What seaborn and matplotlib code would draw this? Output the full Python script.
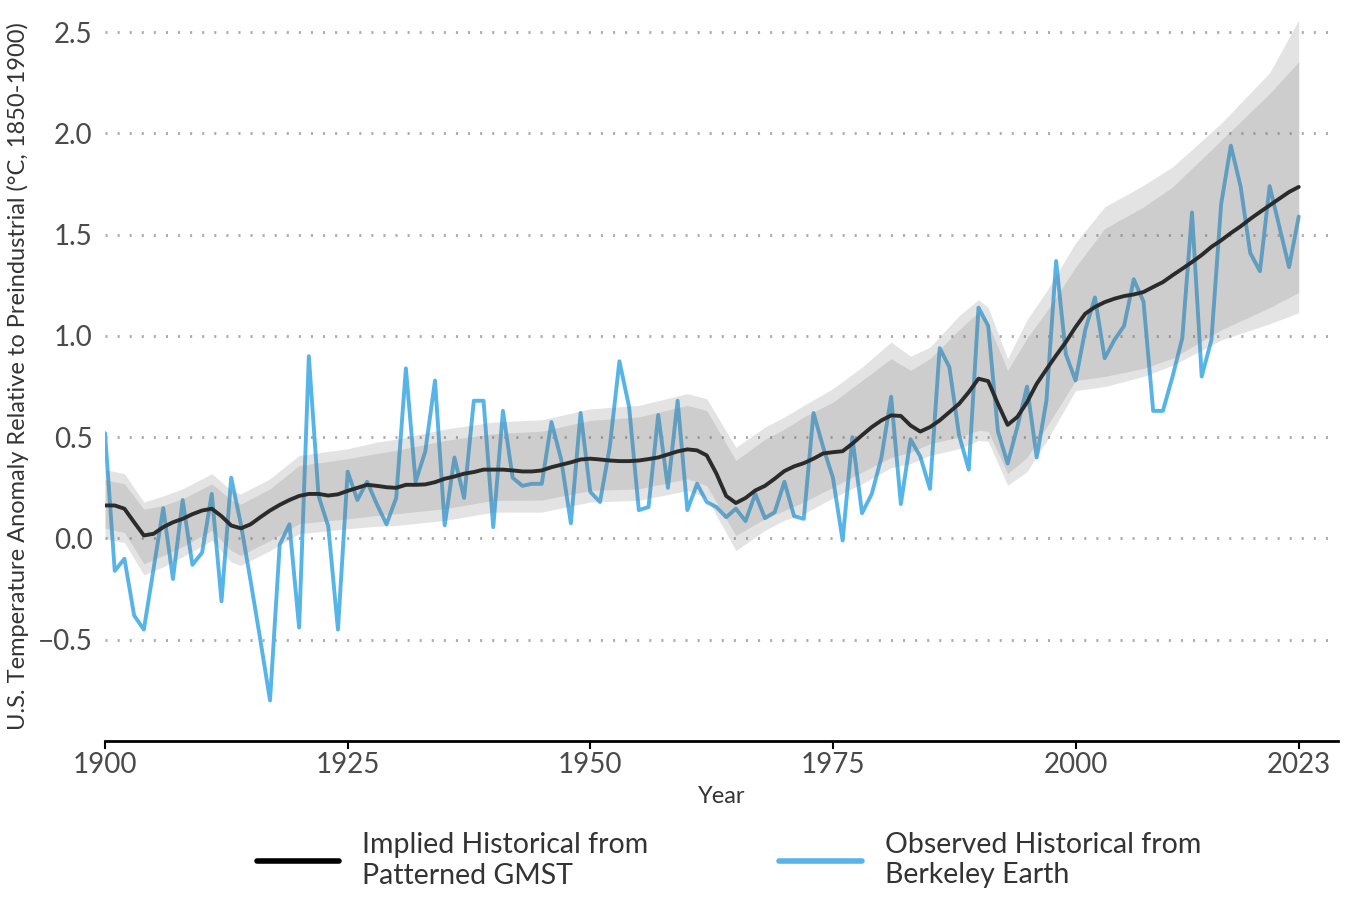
import matplotlib
matplotlib.use('Agg')
import matplotlib.pyplot as plt
from matplotlib.lines import Line2D
import seaborn as sns

# ---- data ----
years = list(range(1900, 2024))

observed = [
    0.52, -0.16, -0.10, -0.38, -0.45, -0.15, 0.15, -0.20, 0.19, -0.13,   # 1900s
    -0.07, 0.22, -0.31, 0.30, 0.07, -0.21, -0.50, -0.80, -0.03, 0.07,    # 1910s
    -0.44, 0.90, 0.21, 0.06, -0.45, 0.33, 0.19, 0.28, 0.17, 0.07,        # 1920s
    0.20, 0.84, 0.28, 0.43, 0.78, 0.065, 0.40, 0.20, 0.68, 0.68,         # 1930s
    0.056, 0.63, 0.30, 0.26, 0.27, 0.27, 0.575, 0.39, 0.075, 0.62,       # 1940s
    0.23, 0.18, 0.45, 0.875, 0.65, 0.14, 0.155, 0.61, 0.25, 0.68,        # 1950s
    0.14, 0.27, 0.18, 0.155, 0.105, 0.147, 0.086, 0.22, 0.10, 0.13,      # 1960s
    0.28, 0.11, 0.097, 0.62, 0.45, 0.30, -0.01, 0.50, 0.125, 0.22,       # 1970s
    0.40, 0.70, 0.17, 0.49, 0.405, 0.245, 0.94, 0.846, 0.51, 0.34,       # 1980s
    1.14, 1.05, 0.53, 0.37, 0.55, 0.75, 0.40, 0.68, 1.37, 0.91,          # 1990s
    0.78, 1.03, 1.19, 0.89, 0.98, 1.05, 1.28, 1.17, 0.63, 0.63,          # 2000s
    0.80, 0.99, 1.61, 0.80, 0.98, 1.65, 1.94, 1.74, 1.41, 1.32,          # 2010s
    1.74, 1.54, 1.34, 1.59,                                              # 2020s
]

implied = [
    0.163, 0.163, 0.147, 0.08, 0.015, 0.023, 0.056, 0.08, 0.097, 0.12,
    0.138, 0.147, 0.11, 0.064, 0.05, 0.07, 0.105, 0.138, 0.166, 0.19,
    0.21, 0.22, 0.22, 0.212, 0.218, 0.235, 0.25, 0.265, 0.26, 0.253,
    0.25, 0.265, 0.265, 0.267, 0.278, 0.295, 0.306, 0.32, 0.328, 0.34,
    0.34, 0.34, 0.336, 0.331, 0.331, 0.336, 0.352, 0.364, 0.376, 0.39,
    0.394, 0.39, 0.385, 0.382, 0.382, 0.385, 0.392, 0.40, 0.415, 0.43,
    0.44, 0.435, 0.41, 0.32, 0.21, 0.175, 0.20, 0.237, 0.26, 0.295,
    0.333, 0.356, 0.372, 0.394, 0.42, 0.426, 0.431, 0.468, 0.51, 0.55,
    0.583, 0.608, 0.605, 0.558, 0.528, 0.55, 0.583, 0.624, 0.665, 0.723,
    0.789, 0.777, 0.665, 0.561, 0.60, 0.673, 0.764, 0.835, 0.904, 0.97,
    1.044, 1.11, 1.143, 1.167, 1.184, 1.197, 1.205, 1.217, 1.242, 1.266,
    1.30, 1.332, 1.365, 1.40, 1.44, 1.472, 1.508, 1.541, 1.578, 1.612,
    1.645, 1.678, 1.711, 1.736,
]

# uncertainty bands (sampled years)
band_years = [1900, 1902, 1904, 1906, 1908, 1911, 1913, 1914, 1917, 1920,
              1925, 1928, 1930, 1935, 1940, 1945, 1950, 1955, 1960, 1962,
              1965, 1968, 1970, 1972, 1975, 1978, 1981, 1983, 1985, 1988,
              1990, 1991, 1993, 1995, 1997, 2000, 2003, 2007, 2010, 2015,
              2020, 2023]
outer_hi = [0.34, 0.32, 0.18, 0.21, 0.245, 0.32, 0.237, 0.22, 0.295, 0.41,
            0.443, 0.476, 0.49, 0.54, 0.575, 0.586, 0.64, 0.657, 0.715, 0.69,
            0.45, 0.55, 0.60, 0.657, 0.74, 0.846, 0.97, 0.90, 0.945, 1.10,
            1.18, 1.14, 0.888, 1.08, 1.22, 1.46, 1.637, 1.744, 1.835, 2.05,
            2.30, 2.56]
inner_hi = [0.29, 0.27, 0.145, 0.163, 0.196, 0.27, 0.19, 0.17, 0.245, 0.36,
            0.394, 0.42, 0.435, 0.484, 0.517, 0.53, 0.583, 0.60, 0.657, 0.632,
            0.385, 0.49, 0.54, 0.60, 0.673, 0.78, 0.888, 0.83, 0.888, 1.03,
            1.118, 1.06, 0.83, 0.99, 1.12, 1.34, 1.53, 1.637, 1.736, 1.966,
            2.197, 2.355]
inner_lo = [0.05, 0.03, -0.125, -0.084, -0.04, 0.04, -0.06, -0.084, -0.01, 0.073,
            0.097, 0.114, 0.122, 0.147, 0.188, 0.19, 0.237, 0.245, 0.295, 0.26,
            0.015, 0.097, 0.138, 0.18, 0.253, 0.328, 0.40, 0.426, 0.468, 0.50,
            0.534, 0.53, 0.32, 0.40, 0.55, 0.78, 0.80, 0.84, 0.89, 1.03,
            1.14, 1.215]
outer_lo = [0.0, -0.02, -0.18, -0.14, -0.09, -0.01, -0.117, -0.133, -0.06, 0.023,
            0.048, 0.06, 0.064, 0.089, 0.13, 0.13, 0.18, 0.188, 0.237, 0.20,
            -0.06, 0.04, 0.09, 0.122, 0.20, 0.27, 0.35, 0.37, 0.41, 0.443,
            0.484, 0.48, 0.262, 0.33, 0.48, 0.73, 0.75, 0.80, 0.855, 0.98,
            1.06, 1.115]

x_ticks = [1900, 1925, 1950, 1975, 2000, 2023]
y_ticks = [-0.5, 0.0, 0.5, 1.0, 1.5, 2.0, 2.5]
y_tick_labels = ['\u22120.5', '0.0', '0.5', '1.0', '1.5', '2.0', '2.5']

label_implied = 'Implied Historical from\nPatterned GMST'
label_observed = 'Observed Historical from\nBerkeley Earth'

# ---- style ----
sns.set_style('white')
plt.rcParams['font.family'] = ['Lato', 'DejaVu Sans']

blue = '#56B4E9'
text_col = '#4a4a4a'

fig = plt.figure(figsize=(13.5, 9), dpi=100)
ax = fig.add_axes([0.0778, 0.1767, 0.913, 0.81])

sns.lineplot(x=years, y=observed, color=blue, linewidth=2.8, ax=ax, zorder=2)
ax.fill_between(band_years, outer_lo, outer_hi, color='#777777', alpha=0.2, lw=0, zorder=3)
ax.fill_between(band_years, inner_lo, inner_hi, color='#777777', alpha=0.2, lw=0, zorder=3)
sns.lineplot(x=years, y=implied, color='#2b2b2b', linewidth=2.8, ax=ax, zorder=4)

ax.set_xlim(1900, 2027)
ax.set_ylim(-1.0, 2.6)
ax.set_xticks(x_ticks)
ax.set_yticks(y_ticks)
ax.set_yticklabels(y_tick_labels)

sns.despine(ax=ax, left=True)
ax.spines['bottom'].set_color('black')
ax.spines['bottom'].set_linewidth(2)

ax.grid(False)
ax.yaxis.grid(True, color='#aaaaaa', linestyle=(0, (0.75, 3.6)), linewidth=2)
ax.set_axisbelow(True)

ax.tick_params(axis='x', direction='out', length=6, width=1.5, color='black',
               labelsize=20, labelcolor=text_col, pad=2, bottom=True)
ax.tick_params(axis='y', length=0, labelsize=20, labelcolor=text_col, pad=9)

ax.set_xlabel('Year', fontsize=17, color='#333333', labelpad=6)
ax.set_ylabel('U.S. Temperature Anomaly Relative to Preindustrial (°C, 1850-1900)',
              fontsize=17, color='#333333')
ax.yaxis.set_label_coords(-0.062, 0.5)

handles = [Line2D([], [], color='black', lw=4), Line2D([], [], color=blue, lw=4)]
fig.legend(handles, [label_implied, label_observed], loc='center',
           bbox_to_anchor=(0.54, 0.044), ncol=2, frameon=False, fontsize=20.5,
           handlelength=2.9, handletextpad=0.8, columnspacing=4.6,
           labelcolor='#333333', labelspacing=0.3)

fig.savefig('out.png', dpi=100)
